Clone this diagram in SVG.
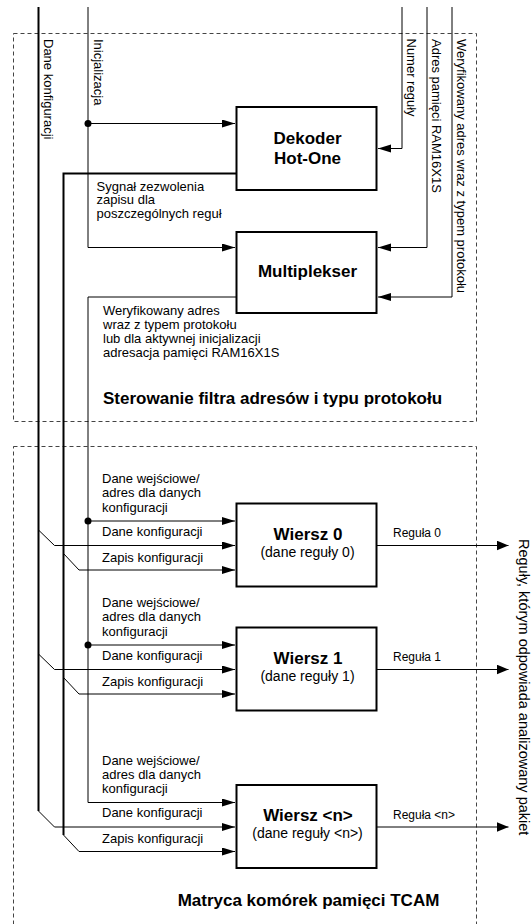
<svg xmlns="http://www.w3.org/2000/svg" width="532" height="924" viewBox="0 0 532 924">
<defs>
<marker id="ai" markerUnits="userSpaceOnUse" markerWidth="14" markerHeight="9" refX="13" refY="4" orient="auto"><path d="M0,0 L13,4 L0,8 z" fill="#000"/></marker>
<marker id="ao" markerUnits="userSpaceOnUse" markerWidth="13" markerHeight="11" refX="12" refY="5" orient="auto"><path d="M0,0 L12,5 L0,10 z" fill="#000"/></marker>
<style>
.t{font-family:"Liberation Sans",Arial,sans-serif;font-size:13px;fill:#000}
.s{font-family:"Liberation Sans",Arial,sans-serif;font-size:12px;fill:#000}
.m{font-family:"Liberation Sans",Arial,sans-serif;font-size:14px;fill:#000;text-anchor:middle}
.r{font-family:"Liberation Sans",Arial,sans-serif;font-size:14.5px;fill:#000}
.b{font-family:"Liberation Sans",Arial,sans-serif;font-size:17px;font-weight:bold;fill:#000}
.bc{font-family:"Liberation Sans",Arial,sans-serif;font-size:17px;font-weight:bold;fill:#000;text-anchor:middle}
.box{fill:#fff;stroke:#000;stroke-width:2}
.ln{fill:none;stroke:#000;stroke-width:1}
.ai{marker-end:url(#ai)}
.ao{marker-end:url(#ao)}
.thick{fill:none;stroke:#000;stroke-width:2}
.dash{fill:none;stroke:#444;stroke-width:1;stroke-dasharray:4 3}
</style>
</defs>

<g id="group-filter">
<rect class="dash" x="13.5" y="33.5" width="463" height="388"/>
<text class="b" x="103" y="404">Sterowanie filtra adresów i typu protokołu</text>
</g>
<g id="group-tcam">
<rect class="dash" x="13.5" y="446.5" width="463" height="490"/>
<text class="bc" x="308.5" y="905.5">Matryca komórek pamięci TCAM</text>
</g>

<g id="connectors">
<path class="ln ai" d="M88,7 V247.5 H235"/>
<path class="ln ai" d="M88,123.5 H235"/>
<circle cx="88" cy="123.5" r="3.5" fill="#000"/>
<path class="ln ai" d="M402,7 V148.5 H378"/>
<path class="ln ai" d="M427,7 V247.5 H378"/>
<path class="ln ai" d="M452,7 V297 H378"/>
<path class="ln ai" d="M236,297 H88 V802.5 H235"/>
<path class="ln ai" d="M88,521 H235"/>
<circle cx="88" cy="521" r="3.5" fill="#000"/>
<path class="ln ai" d="M88,645 H235"/>
<circle cx="88" cy="645" r="3.5" fill="#000"/>
<path class="thick" d="M38.5,7 V811"/>
<path class="ln ai" d="M38.5,530 L54.5,545.5 H235"/>
<path class="ln ai" d="M38.5,654 L54.5,669.5 H235"/>
<path class="ln ai" d="M38.5,811 L54.5,827 H235"/>
<path class="thick" d="M236,173.5 H63.5 V835"/>
<path class="ln ai" d="M63.5,553.5 L79,570 H235"/>
<path class="ln ai" d="M63.5,677.5 L79,694 H235"/>
<path class="ln ai" d="M63.5,835 L79,851.5 H235"/>
<path class="ln ao" d="M377,545.5 H508.5"/>
<path class="ln ao" d="M377,669.5 H508.5"/>
<path class="ln ao" d="M377,827 H508.5"/>
</g>

<g id="labels">
<text class="t" transform="translate(44,39) rotate(90)">Dane konfiguracji</text>
<text class="t" transform="translate(94,39) rotate(90)">Inicjalizacja</text>
<text class="t" transform="translate(407,38.5) rotate(90)">Numer reguły</text>
<text class="t" transform="translate(432,39) rotate(90)">Adres pamięci RAM16X1S</text>
<text class="t" transform="translate(457,39) rotate(90)">Weryfikowany adres wraz z typem protokołu</text>
<text class="r" transform="translate(518.5,539) rotate(90)">Reguły, którym odpowiada analizowany pakiet</text>
<text class="t" x="96.5" y="191">Sygnał zezwolenia</text>
<text class="t" x="96.5" y="204.3">zapisu dla</text>
<text class="t" x="96.5" y="217.6">poszczególnych reguł</text>
<text class="t" x="103" y="315">Weryfikowany adres</text>
<text class="t" x="103" y="329">wraz z typem protokołu</text>
<text class="t" x="103" y="343">lub dla aktywnej inicjalizacji</text>
<text class="t" x="103" y="356.5">adresacja pamięci RAM16X1S</text>

<text class="t" x="102" y="483.3">Dane wejściowe/</text>
<text class="t" x="102" y="497.3">adres dla danych</text>
<text class="t" x="102" y="511.5">konfiguracji</text>
<text class="t" x="102" y="536">Dane konfiguracji</text>
<text class="t" x="102" y="561.5">Zapis konfiguracji</text>

<text class="t" x="102" y="607.3">Dane wejściowe/</text>
<text class="t" x="102" y="621.3">adres dla danych</text>
<text class="t" x="102" y="635.5">konfiguracji</text>
<text class="t" x="102" y="660">Dane konfiguracji</text>
<text class="t" x="102" y="685.5">Zapis konfiguracji</text>

<text class="t" x="102" y="764.5">Dane wejściowe/</text>
<text class="t" x="102" y="778.5">adres dla danych</text>
<text class="t" x="102" y="792.7">konfiguracji</text>
<text class="t" x="102" y="817">Dane konfiguracji</text>
<text class="t" x="102" y="842.7">Zapis konfiguracji</text>

<text class="s" x="393" y="537">Reguła 0</text>
<text class="s" x="393" y="661">Reguła 1</text>
<text class="s" x="393" y="818.5">Reguła &lt;n&gt;</text>
</g>

<g id="dekoder">
<rect class="box" x="236.5" y="107" width="140" height="83"/>
<text class="bc" x="307.5" y="143.5">Dekoder</text>
<text class="bc" x="307.5" y="163.5">Hot-One</text>
</g>
<g id="multiplekser">
<rect class="box" x="236.5" y="232" width="140" height="81"/>
<text class="bc" x="307.5" y="277">Multiplekser</text>
</g>
<g id="wiersz0">
<rect class="box" x="236.5" y="503.5" width="140" height="83"/>
<text class="bc" x="308" y="539.5">Wiersz 0</text>
<text class="m" x="307.5" y="556.5">(dane reguły 0)</text>
</g>
<g id="wiersz1">
<rect class="box" x="236.5" y="627.5" width="140" height="83"/>
<text class="bc" x="308" y="663.5">Wiersz 1</text>
<text class="m" x="307.5" y="680.5">(dane reguły 1)</text>
</g>
<g id="wierszn">
<rect class="box" x="236.5" y="785" width="140" height="83"/>
<text class="bc" x="308" y="821">Wiersz &lt;n&gt;</text>
<text class="m" x="307.5" y="838">(dane reguły &lt;n&gt;)</text>
</g>
</svg>
